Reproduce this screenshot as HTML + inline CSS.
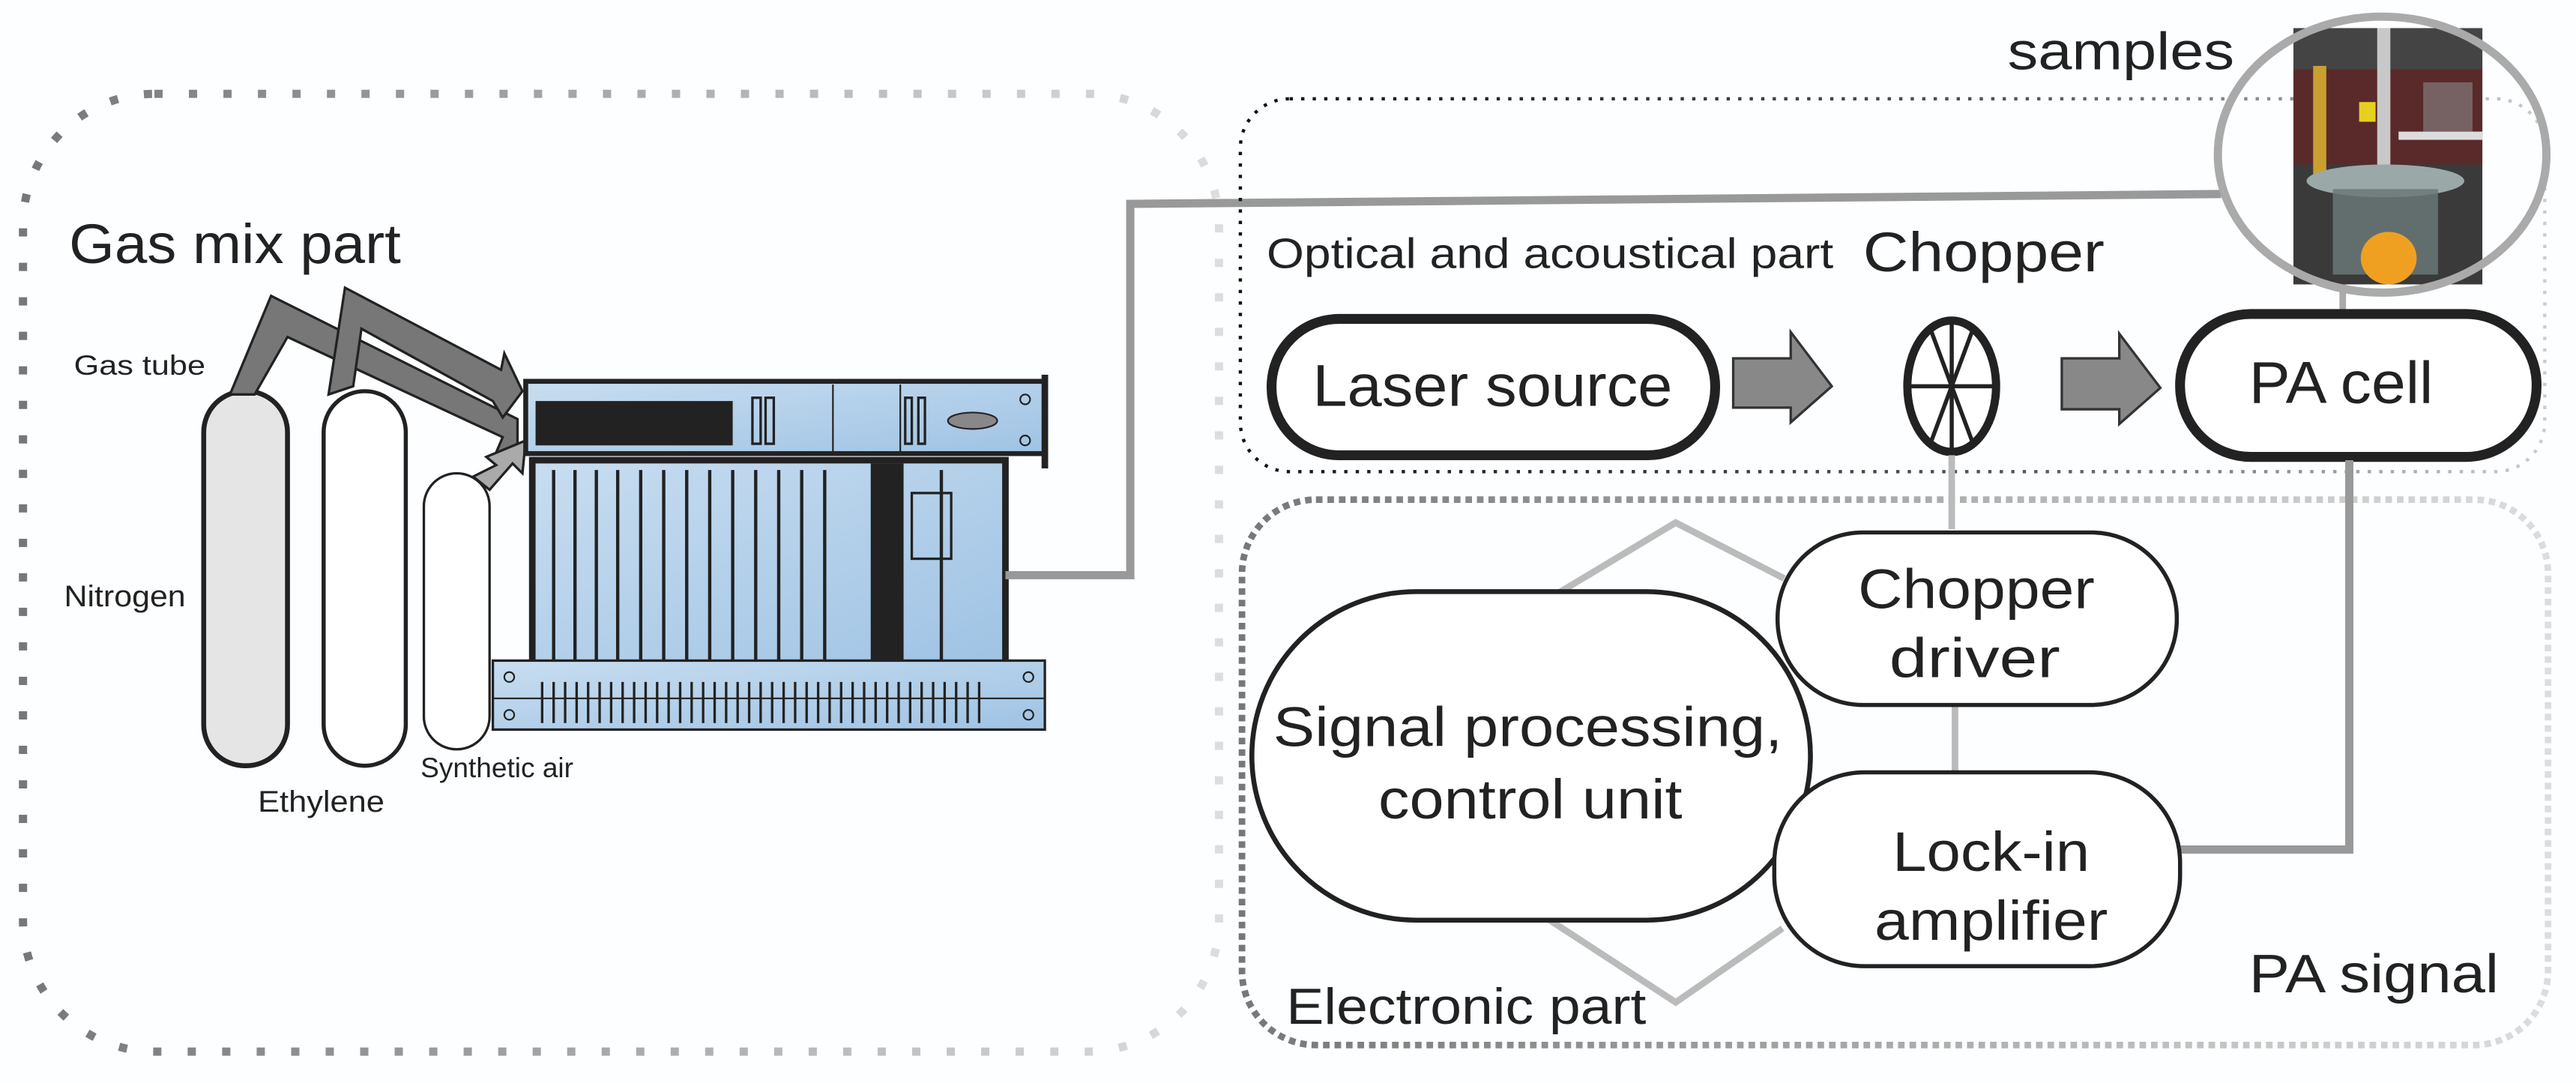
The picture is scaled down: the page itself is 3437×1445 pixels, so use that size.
<!DOCTYPE html>
<html><head><meta charset="utf-8"><style>
html,body{margin:0;padding:0;background:#fff;}
svg{display:block;}
text{font-family:"Liberation Sans",sans-serif;}
</style></head><body>
<svg width="3437" height="1445" viewBox="0 0 1568 659" xmlns="http://www.w3.org/2000/svg">
<defs>
<linearGradient id="lg" x1="0" x2="1" y1="0" y2="0"><stop offset="0" stop-color="#777"/><stop offset="1" stop-color="#ddd"/></linearGradient>
<linearGradient id="eg" x1="0" x2="1"><stop offset="0" stop-color="#777"/><stop offset="1" stop-color="#ddd"/></linearGradient>
<linearGradient id="og" x1="0" x2="1"><stop offset="0" stop-color="#111"/><stop offset="0.6" stop-color="#555"/><stop offset="1" stop-color="#ccc"/></linearGradient>
<linearGradient id="bl" x1="0" x2="1" y1="0" y2="1"><stop offset="0" stop-color="#c8ddf0"/><stop offset="1" stop-color="#9fc3e4"/></linearGradient>
</defs>
<rect x="0" y="0" width="1568" height="659" fill="#fcfeff"/>
<!-- left dotted box -->
<rect x="14" y="57" width="728" height="583" rx="80" fill="none" stroke="url(#lg)" stroke-width="5" stroke-dasharray="5 16"/>
<text x="42" y="160" font-size="34" fill="#222" textLength="202" lengthAdjust="spacingAndGlyphs">Gas mix part</text>
<text x="45" y="228" font-size="17" fill="#222" textLength="80" lengthAdjust="spacingAndGlyphs">Gas tube</text>
<text x="39" y="369" font-size="18" fill="#222" textLength="74" lengthAdjust="spacingAndGlyphs">Nitrogen</text>
<text x="157" y="494" font-size="18" fill="#222" textLength="77" lengthAdjust="spacingAndGlyphs">Ethylene</text>
<text x="256" y="473" font-size="17" fill="#222" font-family="Liberation Serif" textLength="93" lengthAdjust="spacingAndGlyphs">Synthetic air</text>
<!-- cylinders -->
<rect x="124" y="238" width="51" height="228" rx="25" fill="#e5e5e5" stroke="#222" stroke-width="3"/>
<rect x="197" y="238" width="50" height="228" rx="25" fill="#fff" stroke="#222" stroke-width="2.5"/>
<rect x="258" y="288" width="40" height="168" rx="20" fill="#fff" stroke="#222" stroke-width="1.5"/>
<!-- gas arrows -->
<path d="M140,240 L165,180 L315,255 L315,275 L300,280 L306,266 L175,205 L155,240 Z" fill="#777" stroke="#222" stroke-width="1.5"/>
<path d="M200,240 L210,175 L305,225 L307,215 L318,238 L306,254 L300,244 L220,200 L215,235 Z" fill="#777" stroke="#222" stroke-width="1.5"/>
<path d="M288,290 L302,283 L296,278 L320,268 L318,288 L312,282 L298,298 Z" fill="#aaa" stroke="#222" stroke-width="1.5"/>
<!-- rack device -->
<rect x="320" y="232" width="316" height="44" fill="url(#bl)" stroke="#222" stroke-width="3"/>
<rect x="326" y="244" width="120" height="27" fill="#222"/>
<rect x="458" y="242" width="5" height="28" fill="none" stroke="#222" stroke-width="1.5"/>
<rect x="466" y="242" width="5" height="28" fill="none" stroke="#222" stroke-width="1.5"/>
<line x1="507" y1="234" x2="507" y2="275" stroke="#222" stroke-width="1"/>
<line x1="548" y1="234" x2="548" y2="275" stroke="#222" stroke-width="1"/>
<rect x="551" y="242" width="4" height="28" fill="none" stroke="#222" stroke-width="1.5"/>
<rect x="559" y="242" width="4" height="28" fill="none" stroke="#222" stroke-width="1.5"/>
<ellipse cx="592" cy="256" rx="15" ry="5" fill="#888" stroke="#222"/>
<circle cx="624" cy="243" r="3" fill="none" stroke="#222"/><circle cx="624" cy="268" r="3" fill="none" stroke="#222"/>
<rect x="634" y="228" width="4" height="57" fill="#222"/>
<rect x="324" y="280" width="288" height="125" fill="url(#bl)" stroke="#222" stroke-width="4"/>
<g stroke="#222" stroke-width="2">
<line x1="337" y1="286" x2="337" y2="403"/><line x1="350" y1="286" x2="350" y2="403"/><line x1="363" y1="286" x2="363" y2="403"/><line x1="376" y1="286" x2="376" y2="403"/><line x1="390" y1="286" x2="390" y2="403"/><line x1="404" y1="286" x2="404" y2="403"/><line x1="418" y1="286" x2="418" y2="403"/><line x1="432" y1="286" x2="432" y2="403"/><line x1="446" y1="286" x2="446" y2="403"/><line x1="460" y1="286" x2="460" y2="403"/><line x1="474" y1="286" x2="474" y2="403"/><line x1="488" y1="286" x2="488" y2="403"/><line x1="502" y1="286" x2="502" y2="403"/><line x1="573" y1="286" x2="573" y2="403"/>
</g>
<rect x="530" y="282" width="20" height="122" fill="#222"/>
<rect x="555" y="300" width="24" height="40" fill="none" stroke="#222" stroke-width="1.5"/>
<rect x="300" y="402" width="336" height="42" fill="url(#bl)" stroke="#222" stroke-width="1.5"/>
<line x1="300" y1="425" x2="636" y2="425" stroke="#222" stroke-width="1"/>
<g stroke="#222" stroke-width="1.5">
<path d="M330,415V440M337,415V440M344,415V440M351,415V440M358,415V440M365,415V440M372,415V440M379,415V440M386,415V440M393,415V440M400,415V440M407,415V440M414,415V440M421,415V440M428,415V440M435,415V440M442,415V440M449,415V440M456,415V440M463,415V440M470,415V440M477,415V440M484,415V440M491,415V440M498,415V440M505,415V440M512,415V440M519,415V440M526,415V440M533,415V440M540,415V440M547,415V440M554,415V440M561,415V440M568,415V440M575,415V440M582,415V440M589,415V440M596,415V440"/>
</g>
<circle cx="310" cy="412" r="3" fill="none" stroke="#222"/><circle cx="310" cy="435" r="3" fill="none" stroke="#222"/>
<circle cx="626" cy="412" r="3" fill="none" stroke="#222"/><circle cx="626" cy="435" r="3" fill="none" stroke="#222"/>
<!-- connection line -->
<polyline points="612,350 688,350 688,124 1352,118" fill="none" stroke="#999" stroke-width="5"/>
<!-- optical box -->
<rect x="755" y="60" width="794" height="227" rx="30" fill="none" stroke="url(#og)" stroke-width="2" stroke-dasharray="2 5"/>
<!-- electronic box -->
<rect x="756" y="304" width="795" height="332" rx="45" fill="none" stroke="url(#eg)" stroke-width="4" stroke-dasharray="4 3"/>
<text x="771" y="163" font-size="26" fill="#222" textLength="345" lengthAdjust="spacingAndGlyphs">Optical and acoustical part</text>
<text x="1134" y="165" font-size="34" fill="#222" textLength="147" lengthAdjust="spacingAndGlyphs">Chopper</text>
<text x="1222" y="42" font-size="32" fill="#222" textLength="138" lengthAdjust="spacingAndGlyphs">samples</text>
<!-- samples photo -->
<rect x="1396" y="17" width="115" height="156" fill="#3a3a3a"/>
<rect x="1396" y="40" width="115" height="60" fill="#5a2a2a"/>
<rect x="1396" y="17" width="115" height="25" fill="#444"/>
<rect x="1408" y="40" width="8" height="70" fill="#c9a030"/>
<rect x="1447" y="17" width="8" height="85" fill="#c8c8c8"/>
<rect x="1460" y="80" width="51" height="5" fill="#ddd"/>
<rect x="1475" y="50" width="30" height="30" fill="#888" opacity="0.6"/>
<rect x="1436" y="62" width="10" height="12" fill="#e8d020"/>
<ellipse cx="1452" cy="110" rx="48" ry="10" fill="#9aa8a8"/>
<rect x="1420" y="115" width="64" height="52" fill="#6a7878" opacity="0.85"/>
<ellipse cx="1454" cy="157" rx="17" ry="16" fill="#f0a020"/>
<ellipse cx="1450" cy="94" rx="100" ry="84" fill="none" stroke="#aaa" stroke-width="5"/>
<line x1="1426" y1="173" x2="1426" y2="190" stroke="#aaa" stroke-width="4"/>
<!-- laser -->
<rect x="774" y="194" width="270" height="83" rx="41" fill="#fff" stroke="#222" stroke-width="6"/>
<text x="799" y="247" font-size="36" fill="#222" textLength="219" lengthAdjust="spacingAndGlyphs">Laser source</text>
<path d="M1055,218 L1090,218 L1090,202 L1115,235 L1090,257 L1090,248 L1055,248 Z" fill="#888" stroke="#333" stroke-width="1.5"/>
<path d="M1255,218 L1290,218 L1290,203 L1315,236 L1290,258 L1290,249 L1255,249 Z" fill="#888" stroke="#333" stroke-width="1.5"/>
<!-- chopper -->
<ellipse cx="1188" cy="235" rx="27" ry="40" fill="#fff" stroke="#222" stroke-width="5"/>
<g stroke="#222" stroke-width="2.5">
<line x1="1188" y1="196" x2="1188" y2="274"/><line x1="1162" y1="235" x2="1214" y2="235"/>
<line x1="1175" y1="200" x2="1201" y2="270"/><line x1="1201" y1="200" x2="1175" y2="270"/>
</g>
<!-- PA cell -->
<rect x="1327" y="191" width="217" height="87" rx="43" fill="#fff" stroke="#222" stroke-width="6"/>
<text x="1369" y="245" font-size="36" fill="#222" textLength="112" lengthAdjust="spacingAndGlyphs">PA cell</text>
<!-- gray connectors -->
<g fill="none" stroke="#bbb" stroke-width="4">
<line x1="1188" y1="277" x2="1188" y2="322"/>
<line x1="1190" y1="430" x2="1190" y2="470"/>
<polyline points="930,372 1020,318 1086,352"/>
<polyline points="925,548 1020,610 1085,565"/>
</g>
<polyline points="1430,280 1430,517 1327,517" fill="none" stroke="#999" stroke-width="5"/>
<!-- electronic nodes -->
<rect x="1082" y="324" width="243" height="105" rx="52" fill="#fff" stroke="#222" stroke-width="2.5"/>
<text x="1131" y="370" font-size="34" fill="#222" textLength="144" lengthAdjust="spacingAndGlyphs">Chopper</text>
<text x="1150" y="412" font-size="34" fill="#222" textLength="104" lengthAdjust="spacingAndGlyphs">driver</text>
<rect x="762" y="360" width="340" height="200" rx="100" fill="#fff" stroke="#222" stroke-width="3"/>
<text x="775" y="454" font-size="34" fill="#222" textLength="310" lengthAdjust="spacingAndGlyphs">Signal processing,</text>
<text x="839" y="498" font-size="34" fill="#222" textLength="185" lengthAdjust="spacingAndGlyphs">control unit</text>
<rect x="1080" y="470" width="247" height="118" rx="55" fill="#fff" stroke="#222" stroke-width="2.5"/>
<text x="1152" y="530" font-size="34" fill="#222" textLength="120" lengthAdjust="spacingAndGlyphs">Lock-in</text>
<text x="1141" y="572" font-size="34" fill="#222" textLength="142" lengthAdjust="spacingAndGlyphs">amplifier</text>
<text x="783" y="623" font-size="31" fill="#222" textLength="219" lengthAdjust="spacingAndGlyphs">Electronic part</text>
<text x="1369" y="604" font-size="33" fill="#222" textLength="152" lengthAdjust="spacingAndGlyphs">PA signal</text>
</svg>
</body></html>
